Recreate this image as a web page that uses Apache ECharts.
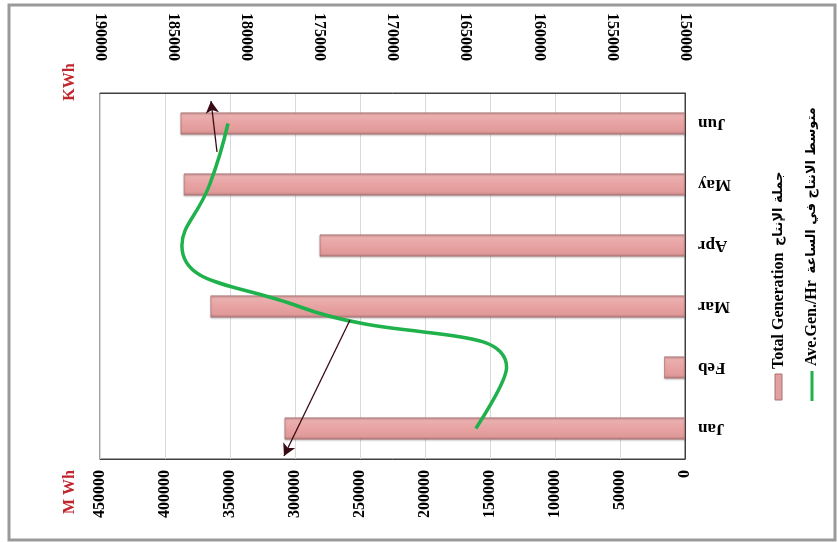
<!DOCTYPE html>
<html>
<head>
<meta charset="utf-8">
<script src="https://cdn.jsdelivr.net/npm/echarts@6/dist/echarts.min.js"></script>
<style>html,body{margin:0;padding:0;background:#fff}#c{width:838px;height:542px}</style>
</head>
<body>
<div id="c"></div>
<script>
const months = ['Jan', 'Feb', 'Mar', 'Apr', 'May', 'Jun'];
const totalGeneration = [308000, 16000, 365000, 281000, 385500, 388000];
const aveGenPerHr = [164300, 162200, 176400, 184400, 182500, 181250];
const seriesNamesEn = ['Total Generation', 'Ave.Gen./Hr'];
const seriesNamesAr = ['جملة الإنتاج', 'متوسط الانتاج في الساعة'];
const axisTitles = ['KWh', 'M Wh'];

const serif = '"Liberation Serif", "Times New Roman", "DejaVu Sans", serif';
const chart = echarts.init(document.getElementById('c'));
const tickLabel = { rotate: 90, fontFamily: serif, fontWeight: 'bold', fontSize: 16, color: '#000', formatter: v => String(v) };

function legendText(i) {
  return {
    text: '{a|' + seriesNamesEn[i] + '}  {b|' + seriesNamesAr[i] + '}',
    fill: '#000',
    textAlign: 'left', textVerticalAlign: 'middle',
    rich: {
      a: { fontFamily: serif, fontWeight: 'bold', fontSize: 16, fill: '#000' },
      b: { fontFamily: '"DejaVu Sans", sans-serif', fontWeight: 'bold', fontSize: 13, fill: '#000' }
    }
  };
}

chart.setOption({
  animation: false,
  backgroundColor: '#fff',
  grid: { left: 100, right: 153, top: 93, bottom: 83, show: true, borderColor: '#404040', borderWidth: 1, containLabel: false },
  xAxis: [
    {
      type: 'value', position: 'bottom', inverse: true, min: 0, max: 450000, interval: 50000,
      axisLine: { show: true, lineStyle: { color: '#404040' } }, axisTick: { show: false },
      splitLine: { show: true, lineStyle: { color: '#d9d9d9', width: 1 } },
      axisLabel: Object.assign({ margin: 11 }, tickLabel)
    },
    {
      type: 'value', position: 'top', inverse: true, min: 150000, max: 190000, interval: 5000,
      axisLine: { show: true, lineStyle: { color: '#404040' } }, axisTick: { show: false },
      splitLine: { show: false },
      axisLabel: Object.assign({ margin: 32 }, tickLabel)
    }
  ],
  yAxis: {
    type: 'category', position: 'right', data: months,
    axisLine: { show: true, lineStyle: { color: '#404040' } }, axisTick: { show: false },
    axisLabel: { rotate: 180, margin: 13, fontFamily: serif, fontWeight: 'bold', fontSize: 17, color: '#000' }
  },
  series: [
    {
      name: seriesNamesEn[0], type: 'bar', xAxisIndex: 0, data: totalGeneration, barWidth: 22,
      itemStyle: {
        color: new echarts.graphic.LinearGradient(0, 0, 0, 1, [
          { offset: 0, color: '#c98e8e' }, { offset: 0.12, color: '#eab0b0' },
          { offset: 0.5, color: '#e8a2a2' }, { offset: 0.85, color: '#e19a9a' }, { offset: 1, color: '#b67a7a' }
        ]),
        borderColor: '#a87070', borderWidth: 0.6,
        shadowColor: 'rgba(0,0,0,0.25)', shadowBlur: 2, shadowOffsetY: 1
      }
    },
    {
      name: seriesNamesEn[1], type: 'line', xAxisIndex: 1, data: aveGenPerHr, smooth: 0.5,
      symbol: 'none', lineStyle: { color: '#1fb14c', width: 3.5 },
      markLine: {
        silent: true, symbolSize: [10, 12], label: { show: false },
        lineStyle: { color: '#3a0a14', width: 1.3, type: 'solid' },
        data: [
          [{ x: 217, y: 152, symbol: 'none' }, { x: 211, y: 101, symbol: 'arrow' }],
          [{ x: 350, y: 320, symbol: 'none' }, { x: 284, y: 456, symbol: 'arrow' }]
        ]
      }
    }
  ],
  graphic: [
    { type: 'rect', shape: { x: 9, y: 5, width: 826, height: 535 }, style: { fill: 'none', stroke: '#9a9a9a', lineWidth: 3 }, silent: true },
    { type: 'text', x: 70, y: 82, rotation: Math.PI / 2, style: { text: axisTitles[0], fill: '#c0262d', font: 'bold 16px ' + serif, textAlign: 'center', textVerticalAlign: 'middle' } },
    { type: 'text', x: 70, y: 492, rotation: Math.PI / 2, style: { text: axisTitles[1], fill: '#c0262d', font: 'bold 16px ' + serif, textAlign: 'center', textVerticalAlign: 'middle' } },
    { type: 'rect', shape: { x: 775, y: 374, width: 7, height: 26 }, style: { fill: '#e2a0a0', stroke: '#a87070', lineWidth: 1 } },
    { type: 'text', x: 779, y: 369, rotation: Math.PI / 2, style: legendText(0) },
    { type: 'line', shape: { x1: 812, y1: 401, x2: 812, y2: 371 }, style: { stroke: '#1fb14c', lineWidth: 3 } },
    { type: 'text', x: 812, y: 366, rotation: Math.PI / 2, style: legendText(1) }
  ]
});
</script>
</body>
</html>
